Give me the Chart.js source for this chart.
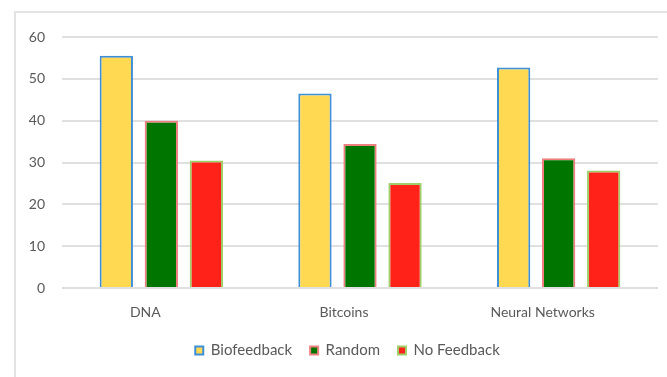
<!DOCTYPE html>
<html>
<head>
<meta charset="utf-8">
<script src="https://cdn.jsdelivr.net/npm/chart.js@4/dist/chart.umd.min.js"></script>
<style>
  html, body { margin: 0; padding: 0; background: #ffffff; }
  #wrap { position: relative; width: 667px; height: 377px; overflow: hidden; }
  #frame { position: absolute; left: 14px; top: 11px; width: 700px; height: 400px;
           border-left: 2px solid #e3e3e3; border-top: 2px solid #e3e3e3; }
  canvas { position: absolute; left: 0; top: 0; }
</style>
</head>
<body>
<div id="wrap">
  <div id="frame"></div>
  <canvas id="chart" width="667" height="377"></canvas>
</div>
<script>
// Topics shown along the x axis
const categories = ['DNA', 'Bitcoins', 'Neural Networks'];

// Scores per condition
const biofeedback = [55.5, 46.5, 52.7];
const random = [40, 34.4, 31];
const noFeedback = [30.5, 25.1, 28.1];

// Value axis ticks
const yTicks = [0, 10, 20, 30, 40, 50, 60];

const textColor = '#595959';
const fontFamily = 'Lato, "Open Sans", "DejaVu Sans", sans-serif';

new Chart(document.getElementById('chart'), {
  type: 'bar',
  data: {
    labels: categories,
    datasets: [
      { label: 'Biofeedback', data: biofeedback, backgroundColor: '#ffd952', borderColor: '#3d8fd8', borderWidth: 2 },
      { label: 'Random', data: random, backgroundColor: '#007500', borderColor: '#f08080', borderWidth: 2 },
      { label: 'No Feedback', data: noFeedback, backgroundColor: '#ff2219', borderColor: '#9fcf6a', borderWidth: 2 }
    ]
  },
  options: {
    responsive: false,
    animation: false,
    layout: { padding: { left: 28, right: 0, top: 37, bottom: 9 } },
    datasets: { bar: { categoryPercentage: 0.68, barPercentage: 0.74 } },
    scales: {
      x: {
        grid: { display: false },
        border: { display: false },
        ticks: { color: textColor, font: { family: fontFamily, size: 14 }, padding: 8, labelOffset: -16 },
        afterFit: (axis) => { axis.height = 37; }
      },
      y: {
        min: 0,
        max: 60,
        afterBuildTicks: (axis) => { axis.ticks = yTicks.map(v => ({ value: v })); },
        grid: { color: '#e0e0e0', lineWidth: 2, drawTicks: false },
        border: { display: false },
        ticks: { color: textColor, font: { family: fontFamily, size: 14 }, padding: 17 },
        afterFit: (axis) => { axis.width = 34; }
      },
      // empty margin on the right of the plot
      yRight: {
        position: 'right',
        grid: { display: false },
        border: { display: false },
        ticks: { display: false },
        afterFit: (axis) => { axis.width = 9; }
      }
    },
    plugins: {
      tooltip: { enabled: false },
      legend: {
        position: 'bottom',
        labels: {
          color: textColor,
          font: { family: fontFamily, size: 15 },
          boxWidth: 8,
          boxHeight: 8,
          padding: 18
        }
      }
    }
  }
});
</script>
</body>
</html>
